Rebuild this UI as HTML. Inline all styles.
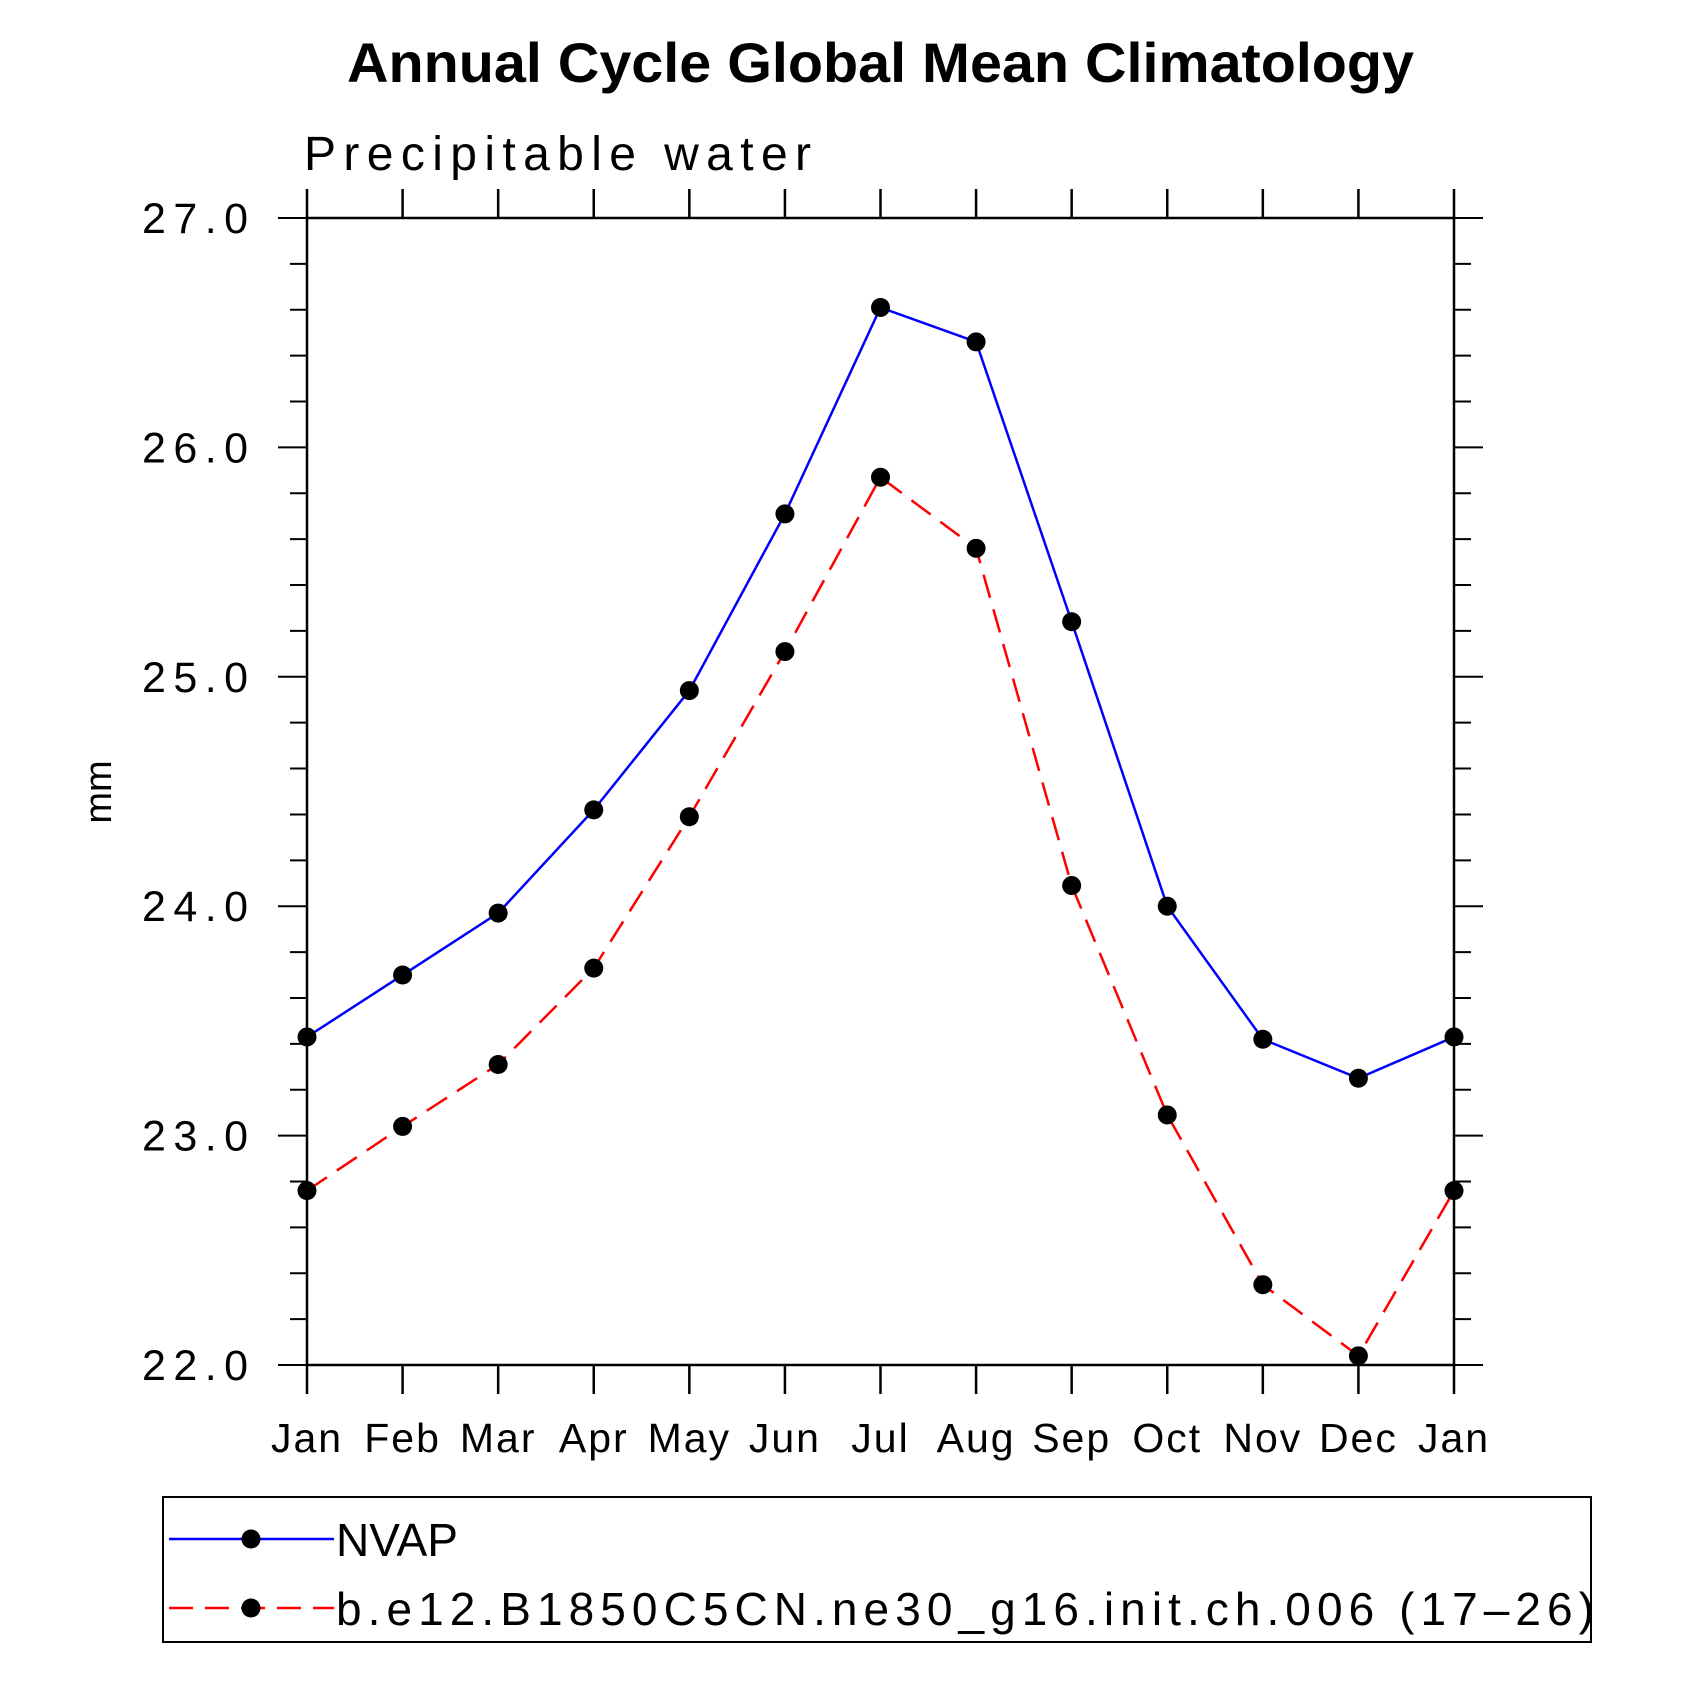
<!DOCTYPE html>
<html><head><meta charset="utf-8"><style>html,body{margin:0;padding:0;background:#fff}</style></head>
<body>
<svg id="chart" width="1681" height="1681" xmlns="http://www.w3.org/2000/svg" font-family="Liberation Sans, sans-serif">
<text x="347" y="82" font-size="56" font-weight="bold" textLength="1067" lengthAdjust="spacingAndGlyphs">Annual Cycle Global Mean Climatology</text>
<text x="304" y="170" font-size="48" textLength="507" lengthAdjust="spacing">Precipitable water</text>
<text x="0" y="0" font-size="38" text-anchor="middle" transform="translate(111,792) rotate(-90)">mm</text>
<g id="axes"></g>
<g id="series"></g>
<g>
<rect x="163" y="1497" width="1428" height="145" fill="none" stroke="#000" stroke-width="2"/>
<g>
<line x1="169" y1="1539" x2="334" y2="1539" stroke="#00f" stroke-width="2.5"/>
<circle cx="251" cy="1539" r="9.5" fill="#000"/>
<text x="336" y="1556" font-size="46" textLength="122" lengthAdjust="spacingAndGlyphs">NVAP</text></g>
<g>
<line x1="169" y1="1608" x2="334" y2="1608" stroke="#f00" stroke-width="2.5" stroke-dasharray="24,12"/>
<circle cx="251" cy="1608" r="9.5" fill="#000"/>
<text x="336" y="1625" font-size="46" textLength="1258" lengthAdjust="spacing">b.e12.B1850C5CN.ne30_g16.init.ch.006 (17–26)</text></g>
</g>
</svg>
<script>
const months=["Jan","Feb","Mar","Apr","May","Jun","Jul","Aug","Sep","Oct","Nov","Dec","Jan"];
const nvap=[23.43,23.70,23.97,24.42,24.94,25.71,26.61,26.46,25.24,24.00,23.42,23.25,23.43];
const model=[22.76,23.04,23.31,23.73,24.39,25.11,25.87,25.56,24.09,23.09,22.35,22.04,22.76];
const yTicks=[22,23,24,25,26,27];
const yTickLabels=["22.0","23.0","24.0","25.0","26.0","27.0"];
const NS="http://www.w3.org/2000/svg";
const L=307,R=1454,T=218,B=1365,ymin=22,ymax=27;
const xs=i=>L+(R-L)*i/(months.length-1);
const ys=v=>B-(B-T)*(v-ymin)/(ymax-ymin);
function mk(tag,attrs,parent){const e=document.createElementNS(NS,tag);for(const k in attrs)e.setAttribute(k,attrs[k]);parent.appendChild(e);return e;}
const ax=document.getElementById('axes');
const frame=mk('rect',{x:L,y:T,width:R-L,height:B-T,fill:'none',stroke:'#000','stroke-width':2.5},ax);


months.forEach((m,i)=>{const x=xs(i);
mk('line',{x1:x,y1:B,x2:x,y2:B+29,stroke:'#000','stroke-width':2.5},ax);
mk('line',{x1:x,y1:T,x2:x,y2:T-29,stroke:'#000','stroke-width':2.5},ax);
const t=mk('text',{x:x,y:1452,'font-size':41,'text-anchor':'middle','letter-spacing':2},ax);t.textContent=m;

});
for(let v=ymin;v<=ymax+1e-9;v+=0.2){const y=ys(v);const major=Math.abs(v-Math.round(v))<1e-6;const len=major?29:17;
mk('line',{x1:L-len,y1:y,x2:L,y2:y,stroke:'#000','stroke-width':2},ax);
mk('line',{x1:R,y1:y,x2:R+len,y2:y,stroke:'#000','stroke-width':2},ax);}
yTicks.forEach((v,i)=>{const t=mk('text',{x:142,y:ys(v)+15,'font-size':43,textLength:106,lengthAdjust:'spacing'},ax);t.textContent=yTickLabels[i];

});
const sg=document.getElementById('series');
function draw(vals,color,dash,name){const g=mk('g',{},sg);


mk('polyline',{points:vals.map((v,i)=>xs(i)+','+ys(v)).join(' '),fill:'none',stroke:color,'stroke-width':2.5,'stroke-dasharray':dash},g);
vals.forEach((v,i)=>{const c=mk('circle',{cx:xs(i),cy:ys(v),r:9.5,fill:'#000'},g);

});}
draw(nvap,'#00f','none','nvap-series');
draw(model,'#f00','24,12','model-series');
</script>
</body></html>
